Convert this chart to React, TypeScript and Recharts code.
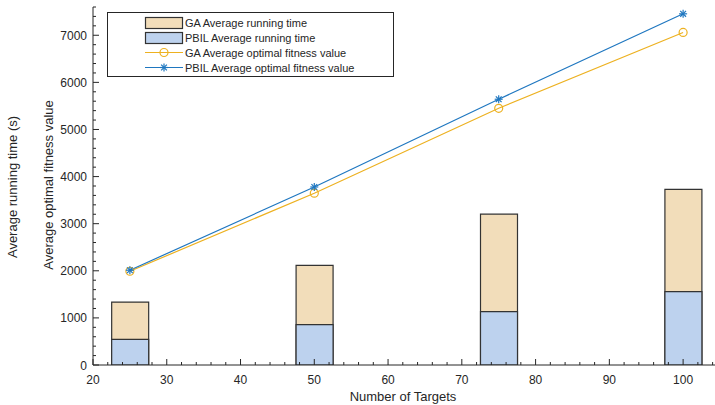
import React from "react";
import { ComposedChart, Bar, Line, XAxis, YAxis } from "recharts";

const targets = [25, 50, 75, 100];
const gaTime = [1336, 2117, 3202, 3730];
const pbilTime = [545, 856, 1132, 1558];
const gaFitness = [1990, 3647, 5450, 7060];
const pbilFitness = [2012, 3779, 5642, 7455];

const xTicks = Array.from({ length: 43 }, (_, i) => 20 + i * 2);
const yTicks = Array.from({ length: 39 }, (_, i) => i * 200);

const data = targets.map((t, i) => ({
  t,
  gaTime: gaTime[i],
  pbilTime: pbilTime[i],
  gaFitness: gaFitness[i],
  pbilFitness: pbilFitness[i],
}));

const FONT = '"Liberation Sans", Arial, Helvetica, sans-serif';
const AX = "#262626";
const GA_LINE = "#EDB120";
const PBIL_LINE = "#1F77C0";
const GA_FILL = "#F2DDBA";
const PBIL_FILL = "#BDD2EE";
const BAR_EDGE = "#333333";

const MAJ = 6;
const MIN = 3;

const BottomTick = (p: any) => {
  const v = p.payload.value;
  const major = v % 10 === 0;
  return (
    <g>
      <line x1={p.x} y1={p.y} x2={p.x} y2={p.y - (major ? MAJ : MIN)} stroke={AX} strokeWidth={1} />
      {major && (
        <text x={p.x} y={p.y + 19} textAnchor="middle" fontSize={12} fontFamily={FONT} fill={AX}>
          {v}
        </text>
      )}
    </g>
  );
};

const TopTick = (p: any) => {
  const v = p.payload.value;
  const major = v % 10 === 0;
  return <line x1={p.x} y1={p.y} x2={p.x} y2={p.y + (major ? MAJ : MIN)} stroke={AX} strokeWidth={1} />;
};

const LeftTick = (p: any) => {
  const v = p.payload.value;
  const major = v % 1000 === 0;
  return (
    <g>
      <line x1={p.x} y1={p.y} x2={p.x + (major ? MAJ : MIN)} y2={p.y} stroke={AX} strokeWidth={1} />
      {major && (
        <text x={p.x - 6} y={p.y + 4.5} textAnchor="end" fontSize={12} fontFamily={FONT} fill={AX}>
          {v}
        </text>
      )}
    </g>
  );
};

const RightTick = (p: any) => {
  const v = p.payload.value;
  const major = v % 1000 === 0;
  return <line x1={p.x} y1={p.y} x2={p.x - (major ? MAJ : MIN)} y2={p.y} stroke={AX} strokeWidth={1} />;
};

const Star = (p: any) => {
  const { cx, cy } = p;
  if (cx == null || cy == null) return <g key={p.index} />;
  const r = 4;
  const d = r * 0.72;
  return (
    <g key={p.index} stroke={PBIL_LINE} strokeWidth={1.2}>
      <line x1={cx - r} y1={cy} x2={cx + r} y2={cy} />
      <line x1={cx} y1={cy - r} x2={cx} y2={cy + r} />
      <line x1={cx - d} y1={cy - d} x2={cx + d} y2={cy + d} />
      <line x1={cx - d} y1={cy + d} x2={cx + d} y2={cy - d} />
    </g>
  );
};

const LegendBox = () => (
  <div
    style={{
      position: "absolute",
      left: 107,
      top: 12,
      width: 285,
      height: 63,
      border: `1px solid ${AX}`,
      background: "#fff",
    }}
  >
    <svg width={285} height={63} style={{ display: "block" }}>
      <rect x={37.5} y={4.5} width={37} height={11} fill={GA_FILL} stroke={BAR_EDGE} strokeWidth={1.2} />
      <rect x={37.5} y={19.5} width={37} height={11} fill={PBIL_FILL} stroke={BAR_EDGE} strokeWidth={1.2} />
      <line x1={37} y1={39.5} x2={75} y2={39.5} stroke={GA_LINE} strokeWidth={1.2} />
      <circle cx={56} cy={39.5} r={4} fill="none" stroke={GA_LINE} strokeWidth={1.2} />
      <line x1={37} y1={54.5} x2={75} y2={54.5} stroke={PBIL_LINE} strokeWidth={1.2} />
      <Star cx={56} cy={54.5} index={0} />
      {[
        "GA Average running time",
        "PBIL Average running time",
        "GA Average optimal fitness value",
        "PBIL Average optimal fitness value",
      ].map((s, i) => (
        <text key={s} x={77} y={14 + i * 15} fontSize={11} fontFamily={FONT} fill={AX}>
          {s}
        </text>
      ))}
    </svg>
  </div>
);

const vLabel = (text: string, cx: number, cy: number) => (
  <div
    style={{
      position: "absolute",
      left: cx,
      top: cy,
      transform: "translate(-50%, -50%) rotate(-90deg)",
      whiteSpace: "nowrap",
      fontFamily: FONT,
      fontSize: 13,
      color: AX,
      lineHeight: "15px",
    }}
  >
    {text}
  </div>
);

export default function App() {
  return (
    <div
      style={{
        position: "absolute",
        left: 0,
        top: 0,
        width: 715,
        height: 405,
        overflow: "hidden",
        background: "#fff",
      }}
    >
      <ComposedChart width={720} height={405} data={data} margin={{ top: 7, right: 0, bottom: 0, left: 0 }}>
        <XAxis
          xAxisId="x"
          dataKey="t"
          type="number"
          domain={[20, 105]}
          allowDataOverflow
          ticks={xTicks}
          interval={0}
          tickSize={0}
          tickMargin={0}
          height={40}
          axisLine={{ stroke: AX }}
          tickLine={false}
          tick={(p: any) => <BottomTick {...p} />}
        />
        <XAxis
          xAxisId="top"
          orientation="top"
          dataKey="t"
          type="number"
          domain={[20, 105]}
          allowDataOverflow
          ticks={xTicks}
          interval={0}
          tickSize={0}
          tickMargin={0}
          height={0}
          axisLine={{ stroke: AX }}
          tickLine={false}
          tick={(p: any) => <TopTick {...p} />}
        />
        <XAxis
          xAxisId="b"
          dataKey="t"
          type="number"
          domain={[20, 105]}
          allowDataOverflow
          height={0}
          hide
        />
        <YAxis
          yAxisId="left"
          type="number"
          domain={[0, 7600]}
          allowDataOverflow
          ticks={yTicks}
          interval={0}
          tickSize={0}
          tickMargin={0}
          width={93}
          axisLine={{ stroke: AX }}
          tickLine={false}
          tick={(p: any) => <LeftTick {...p} />}
        />
        <YAxis
          yAxisId="right"
          orientation="right"
          type="number"
          domain={[0, 7600]}
          allowDataOverflow
          ticks={yTicks}
          interval={0}
          tickSize={0}
          tickMargin={0}
          width={0}
          axisLine={{ stroke: AX }}
          tickLine={false}
          tick={(p: any) => <RightTick {...p} />}
        />
        <Bar
          xAxisId="x"
          yAxisId="left"
          dataKey="gaTime"
          barSize={37}
          fill={GA_FILL}
          stroke={BAR_EDGE}
          strokeWidth={1.2}
          isAnimationActive={false}
        />
        <Bar
          xAxisId="b"
          yAxisId="left"
          dataKey="pbilTime"
          barSize={37}
          fill={PBIL_FILL}
          stroke={BAR_EDGE}
          strokeWidth={1.2}
          isAnimationActive={false}
        />
        <Line
          xAxisId="x"
          yAxisId="left"
          dataKey="gaFitness"
          stroke={GA_LINE}
          strokeWidth={1.2}
          dot={{ r: 4, fill: "none", stroke: GA_LINE, strokeWidth: 1.2 }}
          isAnimationActive={false}
        />
        <Line
          xAxisId="x"
          yAxisId="left"
          dataKey="pbilFitness"
          stroke={PBIL_LINE}
          strokeWidth={1.2}
          dot={(p: any) => <Star key={`s${p.index}`} {...p} />}
          isAnimationActive={false}
        />
      </ComposedChart>
      <LegendBox />
      {vLabel("Average running time (s)", 12, 187)}
      {vLabel("Average optimal fitness value", 48, 185)}
      <div
        style={{
          position: "absolute",
          left: 403,
          top: 396,
          transform: "translate(-50%, -50%)",
          whiteSpace: "nowrap",
          fontFamily: FONT,
          fontSize: 13,
          color: AX,
        }}
      >
        Number of Targets
      </div>
    </div>
  );
}
